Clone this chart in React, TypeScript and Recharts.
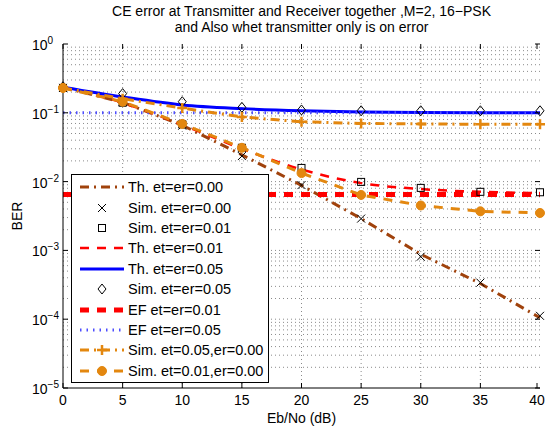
import React from "react";
import {
  LineChart,
  Line,
  XAxis,
  YAxis,
  ReferenceLine,
  Legend,
} from "recharts";

// Eb/No points (dB)
const ebNo = [0, 5, 10, 15, 20, 25, 30, 35, 40];

// BER values
const thEtEr000 = [0.235, 0.142, 0.066, 0.0245, 0.0088, 0.0029, 0.00088, 0.00033, 0.000105];
const simEtEr000 = [0.23, 0.145, 0.065, 0.0235, 0.0089, 0.0029, 0.00081, 0.00034, 0.000112];
const simEtEr001 = [0.23, 0.14, 0.068, 0.031, 0.0158, 0.0099, 0.0081, 0.0071, 0.007];
const thEtEr001 = [0.235, 0.14, 0.067, 0.03, 0.015, 0.0095, 0.0078, 0.0071, 0.0068];
const thEtEr005 = [0.235, 0.17, 0.13, 0.115, 0.107, 0.103, 0.101, 0.1, 0.1];
const simEtEr005 = [0.24, 0.19, 0.145, 0.12, 0.11, 0.107, 0.107, 0.107, 0.107];
const efEtEr001 = [0.0065, 0.0065, 0.0065, 0.0065, 0.0065, 0.0065, 0.0065, 0.0065, 0.0065];
const efEtEr005 = [0.1, 0.1, 0.1, 0.1, 0.1, 0.1, 0.1, 0.1, 0.1];
const simEt005Er000 = [0.23, 0.16, 0.117, 0.087, 0.074, 0.07, 0.069, 0.068, 0.068];
const simEt001Er000 = [0.23, 0.145, 0.069, 0.031, 0.0133, 0.0064, 0.0045, 0.0037, 0.0035];

const xTicks = [0, 5, 10, 15, 20, 25, 30, 35, 40];
const yTicks = [1e-5, 1e-4, 1e-3, 1e-2, 1e-1, 1];
const yTickExp = ["\u22125", "\u22124", "\u22123", "\u22122", "\u22121", "0"];

const titleLines = [
  "CE error at Transmitter and Receiver together ,M=2, 16\u2212PSK",
  "and Also whet transmitter only is on error",
];

const data = ebNo.map((x, i) => ({
  x,
  th0: thEtEr000[i],
  sim0: simEtEr000[i],
  sim1: simEtEr001[i],
  th1: thEtEr001[i],
  th5: thEtEr005[i],
  sim5: simEtEr005[i],
  ef1: efEtEr001[i],
  ef5: efEtEr005[i],
  simEt5: simEt005Er000[i],
  simEt1: simEt001Er000[i],
}));

// log minor grid values
const minorY: number[] = [];
for (let d = -5; d < 0; d++) {
  for (let m = 2; m <= 9; m++) minorY.push(m * Math.pow(10, d));
}

const BROWN = "#A0420C";
const ORANGE = "#E3870F";
const RED = "#FF0000";
const BLUE = "#0000FF";
const LBLUE = "#4d4dff";
const GRID = "#8a8a8a";
const FONT = "'Liberation Sans', Arial, sans-serif";

const XMark = ({ cx, cy }: any) =>
  cx == null ? null : (
    <path
      d={`M${cx - 4},${cy - 4}L${cx + 4},${cy + 4}M${cx - 4},${cy + 4}L${cx + 4},${cy - 4}`}
      stroke="#000"
      strokeWidth={1}
      fill="none"
    />
  );
const SquareMark = ({ cx, cy }: any) =>
  cx == null ? null : (
    <rect x={cx - 3.5} y={cy - 3.5} width={7} height={7} stroke="#000" strokeWidth={1} fill="none" />
  );
const DiamondMark = ({ cx, cy }: any) =>
  cx == null ? null : (
    <path
      d={`M${cx},${cy - 5}L${cx + 4},${cy}L${cx},${cy + 5}L${cx - 4},${cy}Z`}
      stroke="#000"
      strokeWidth={1}
      fill="none"
    />
  );
const PlusMark = ({ cx, cy }: any) =>
  cx == null ? null : (
    <path
      d={`M${cx - 5},${cy}L${cx + 5},${cy}M${cx},${cy - 5}L${cx},${cy + 5}`}
      stroke={ORANGE}
      strokeWidth={2.5}
      fill="none"
    />
  );
const CircleMark = ({ cx, cy }: any) =>
  cx == null ? null : <circle cx={cx} cy={cy} r={4.5} fill={ORANGE} stroke={ORANGE} />;

const mk = (C: any) => (p: any) => <C key={`m-${p.index}`} cx={p.cx} cy={p.cy} />;

const legendRows = [
  { label: "Th. et=er=0.00", stroke: BROWN, dash: "9 5 2 5", w: 3, mark: null },
  { label: "Sim. et=er=0.00", stroke: "none", dash: "", w: 0, mark: XMark },
  { label: "Sim. et=er=0.01", stroke: "none", dash: "", w: 0, mark: SquareMark },
  { label: "Th. et=er=0.01", stroke: RED, dash: "9 8", w: 2.5, mark: null },
  { label: "Th. et=er=0.05", stroke: BLUE, dash: "", w: 3, mark: null },
  { label: "Sim. et=er=0.05", stroke: "none", dash: "", w: 0, mark: DiamondMark },
  { label: "EF et=er=0.01", stroke: RED, dash: "9 8", w: 5, mark: null },
  { label: "EF et=er=0.05", stroke: LBLUE, dash: "1.5 5", w: 3, mark: null },
  { label: "Sim. et=0.05,er=0.00", stroke: ORANGE, dash: "9 5 2 5", w: 3, mark: PlusMark },
  { label: "Sim. et=0.01,er=0.00", stroke: ORANGE, dash: "9 8", w: 3, mark: CircleMark },
];

const LegendBox = () => (
  <div
    style={{
      border: "1px solid #000",
      background: "#fff",
      width: 198,
      height: 209,
      boxSizing: "border-box",
      paddingTop: 2,
      fontFamily: FONT,
      fontSize: 14.5,
      overflow: "visible",
    }}
  >
    {legendRows.map((r, i) => (
      <div key={i} style={{ display: "flex", alignItems: "center", height: 20.4 }}>
        <svg width={56} height={20} style={{ display: "block", flex: "none" }}>
          {r.stroke !== "none" && (
            <line
              x1={8}
              y1={10}
              x2={52}
              y2={10}
              stroke={r.stroke}
              strokeWidth={r.w}
              strokeDasharray={r.dash || undefined}
            />
          )}
          {r.mark && <r.mark cx={30} cy={10} />}
        </svg>
        <span style={{ color: "#000", whiteSpace: "nowrap" }}>{r.label}</span>
      </div>
    ))}
  </div>
);

const YTick = ({ y, payload }: any) => {
  const i = yTicks.indexOf(payload.value);
  return (
    <g>
      <line x1={63} x2={68} y1={y} y2={y} stroke="#000" />
      <line x1={535} x2={540} y1={y} y2={y} stroke="#000" />
      <text x={32} y={y + 6} fontSize={14} fontFamily={FONT} fill="#000">
        10
        <tspan dy={-6} fontSize={10}>
          {yTickExp[i]}
        </tspan>
      </text>
    </g>
  );
};

const XTick = ({ x, payload }: any) => (
  <g>
    <line x1={x} x2={x} y1={388} y2={383} stroke="#000" />
    <line x1={x} x2={x} y1={44} y2={49} stroke="#000" />
    <text x={x} y={405} fontSize={14} fontFamily={FONT} fill="#000" textAnchor="middle">
      {payload.value}
    </text>
  </g>
);

export default function App() {
  return (
    <div
      style={{
        position: "absolute",
        left: 0,
        top: 0,
        width: 545,
        height: 433,
        background: "#fff",
        fontFamily: FONT,
      }}
    >
      <div
        style={{
          position: "absolute",
          left: 63,
          width: 477,
          top: 4,
          textAlign: "center",
          fontSize: 14,
          lineHeight: "15.5px",
          color: "#000",
          whiteSpace: "nowrap",
        }}
      >
        {titleLines.map((t) => (
          <div key={t}>{t}</div>
        ))}
      </div>
      <LineChart
        width={545}
        height={433}
        data={data}
        margin={{ top: 44, right: 5, bottom: 15, left: 8 }}
      >
        {minorY.map((v) => (
          <ReferenceLine key={v} y={v} stroke={GRID} strokeDasharray="1 3" strokeWidth={1} />
        ))}
        {yTicks.slice(1, -1).map((v) => (
          <ReferenceLine key={`M${v}`} y={v} stroke={GRID} strokeDasharray="1 3" strokeWidth={1} />
        ))}
        {xTicks.slice(1, -1).map((v) => (
          <ReferenceLine key={`x${v}`} x={v} stroke={GRID} strokeDasharray="1 3" strokeWidth={1} />
        ))}
        <XAxis
          dataKey="x"
          type="number"
          domain={[0, 40]}
          ticks={xTicks}
          height={30}
          axisLine={{ stroke: "#000", strokeWidth: 1 }}
          tickLine={false}
          tick={<XTick />}
          label={() => (
            <text x={301.5} y={423} textAnchor="middle" fontSize={14} fontFamily={FONT} fill="#000">
              Eb/No (dB)
            </text>
          )}
        />
        <XAxis
          xAxisId="top"
          orientation="top"
          dataKey="x"
          type="number"
          domain={[0, 40]}
          height={0}
          tick={false}
          tickLine={false}
          axisLine={{ stroke: "#000", strokeWidth: 1 }}
        />
        <YAxis
          scale="log"
          type="number"
          domain={[1e-5, 1]}
          allowDataOverflow
          ticks={yTicks}
          width={55}
          axisLine={{ stroke: "#000", strokeWidth: 1 }}
          tickLine={false}
          tick={<YTick />}
          label={() => (
            <text
              x={22}
              y={216}
              transform="rotate(-90 22 216)"
              textAnchor="middle"
              fontSize={14}
              fontFamily={FONT}
              fill="#000"
            >
              BER
            </text>
          )}
        />
        <YAxis
          yAxisId="right"
          orientation="right"
          scale="log"
          type="number"
          domain={[1e-5, 1]}
          width={0}
          tick={false}
          tickLine={false}
          axisLine={{ stroke: "#000", strokeWidth: 1 }}
        />
        <Line dataKey="th0" type="linear" stroke={BROWN} strokeWidth={3} strokeDasharray="9 5 2 5" dot={false} isAnimationActive={false} />
        <Line dataKey="sim0" stroke="none" dot={mk(XMark)} activeDot={false} isAnimationActive={false} />
        <Line dataKey="sim1" stroke="none" dot={mk(SquareMark)} activeDot={false} isAnimationActive={false} />
        <Line dataKey="th1" type="monotone" stroke={RED} strokeWidth={2.5} strokeDasharray="9 8" dot={false} isAnimationActive={false} />
        <Line dataKey="th5" type="monotone" stroke={BLUE} strokeWidth={3} dot={false} isAnimationActive={false} />
        <Line dataKey="sim5" stroke="none" dot={mk(DiamondMark)} activeDot={false} isAnimationActive={false} />
        <Line dataKey="ef1" type="linear" stroke={RED} strokeWidth={5} strokeDasharray="9 8" dot={false} isAnimationActive={false} />
        <Line dataKey="ef5" type="linear" stroke={LBLUE} strokeWidth={3} strokeDasharray="1.5 5" dot={false} isAnimationActive={false} />
        <Line dataKey="simEt5" type="linear" stroke={ORANGE} strokeWidth={3} strokeDasharray="9 5 2 5" dot={mk(PlusMark)} activeDot={false} isAnimationActive={false} />
        <Line dataKey="simEt1" type="linear" stroke={ORANGE} strokeWidth={3} strokeDasharray="9 8" dot={mk(CircleMark)} activeDot={false} isAnimationActive={false} />
        <Legend
          layout="vertical"
          align="center"
          verticalAlign="middle"
          content={() => <LegendBox />}
          wrapperStyle={{ left: 71, top: 174, width: 198, height: 209 }}
        />
      </LineChart>
    </div>
  );
}
